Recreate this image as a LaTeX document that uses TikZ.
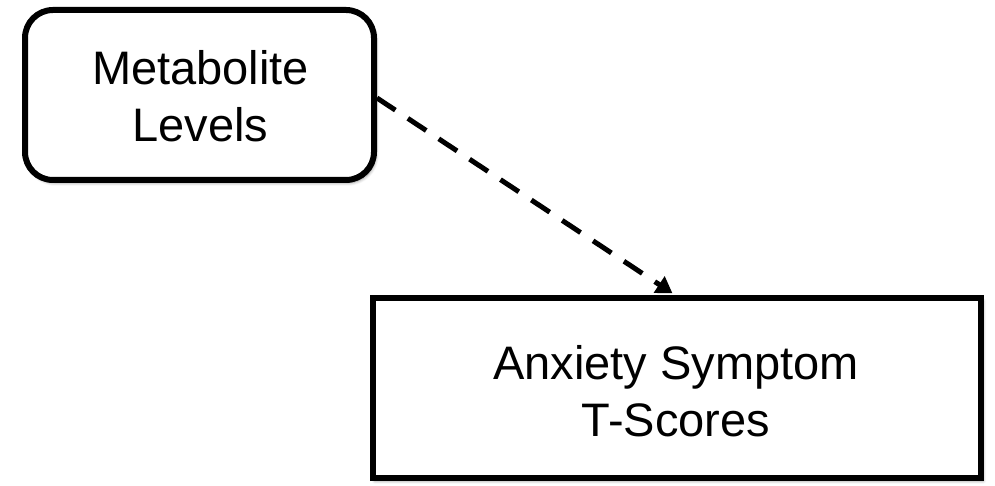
\documentclass[tikz,border=0pt]{standalone}
\usepackage{fontspec}
\setmainfont{Liberation Sans}
\usetikzlibrary{arrows.meta,shadows.blur}
\begin{document}
\begin{tikzpicture}[x=1pt,y=1pt,
  boxline/.style={draw=black, line width=6pt, fill=white, align=center,
    inner sep=0pt, blur shadow={shadow xshift=2pt, shadow yshift=-3pt, shadow blur steps=6, shadow blur radius=3pt, shadow opacity=40}},
  txt/.style={font=\fontsize{47}{56.5}\selectfont, align=center, inner sep=0pt},
  conn/.style={line width=5pt, dash pattern=on 22pt off 15pt,
    -{Triangle[length=16pt,width=19pt]}, shorten >=3pt}]
\useasboundingbox (0,0) rectangle (995,486);
\node[boxline, rounded corners=28pt, minimum width=349pt, minimum height=170pt] (m) at (199.5,391) {};
\node[txt] (mt) at (200.5,390) {Metabolite\\Levels};
\node[boxline, minimum width=608.5pt, minimum height=180pt] (a) at (677,98) {};
\node[txt] (at) at (676,94.7) {Anxiety Symptom\\T-Scores};
\draw[conn] ([yshift=-3pt]m.east) -- ([xshift=-2pt]a.north);
\end{tikzpicture}
\end{document}
